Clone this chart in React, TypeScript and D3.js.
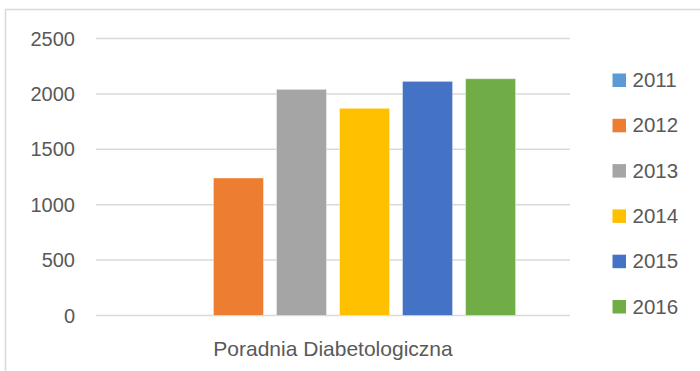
import React from "react";
import * as d3 from "d3";

const categories = ["Poradnia Diabetologiczna"];
const years = ["2011", "2012", "2013", "2014", "2015", "2016"];
const values = [0, 1241, 2041, 1870, 2113, 2137];
const colors = ["#5B9BD5", "#ED7D31", "#A5A5A5", "#FFC000", "#4472C4", "#70AD47"];
const yTicks = [0, 500, 1000, 1500, 2000, 2500];

const W = 700;
const H = 371;
const plot = { left: 96, right: 570, top: 38.5, bottom: 315.5 };
const FONT = "'Liberation Sans', Arial, sans-serif";
const TEXT = "#595959";
const GRID = "#d9d9d9";

export default function App() {
  const x0 = d3.scaleBand().domain(categories).range([plot.left, plot.right]).paddingInner(0).paddingOuter(0.149);
  const x1 = d3.scaleBand().domain(years).range([0, x0.bandwidth()]).paddingInner(0.206).paddingOuter(0);
  const y = d3.scaleLinear().domain([0, 2500]).range([plot.bottom, plot.top]);

  const legendX = 612.5;
  const legendY0 = 80;
  const legendStep = 45.3;

  return (
    <svg width={W} height={H} style={{ position: "absolute", left: 0, top: 0, background: "#fff" }}>
      <rect x={0} y={0} width={W} height={H} fill="#fff" />
      <rect x={5.5} y={9.5} width={W + 20} height={H + 20} fill="none" stroke={GRID} strokeWidth={1.5} />
      {yTicks.map((t) => (
        <g key={t}>
          <line x1={plot.left} x2={plot.right} y1={y(t)} y2={y(t)} stroke={GRID} strokeWidth={1.5} />
          <text x={75} y={y(t)} dy="0.35em" textAnchor="end" fontFamily={FONT} fontSize={20} fill={TEXT}>
            {t}
          </text>
        </g>
      ))}
      {categories.map((c) => (
        <g key={c}>
          {years.map((yr, i) => (
            <rect
              key={yr}
              x={(x0(c) as number) + (x1(yr) as number)}
              y={y(values[i])}
              width={x1.bandwidth()}
              height={plot.bottom - y(values[i])}
              fill={colors[i]}
              stroke="#ffffff"
              strokeOpacity={0.4}
              strokeWidth={1}
            />
          ))}
          <text
            x={(x0(c) as number) + x0.bandwidth() / 2}
            y={349}
            dy="0.35em"
            textAnchor="middle"
            fontFamily={FONT}
            fontSize={21}
            fill={TEXT}
          >
            {c}
          </text>
        </g>
      ))}
      {years.map((yr, i) => (
        <g key={yr} transform={`translate(${legendX},${legendY0 + i * legendStep})`}>
          <rect x={0} y={-6.5} width={13.5} height={13.5} fill={colors[i]} />
          <text x={20} y={0} dy="0.35em" fontFamily={FONT} fontSize={20.5} fill={TEXT}>
            {yr}
          </text>
        </g>
      ))}
    </svg>
  );
}
